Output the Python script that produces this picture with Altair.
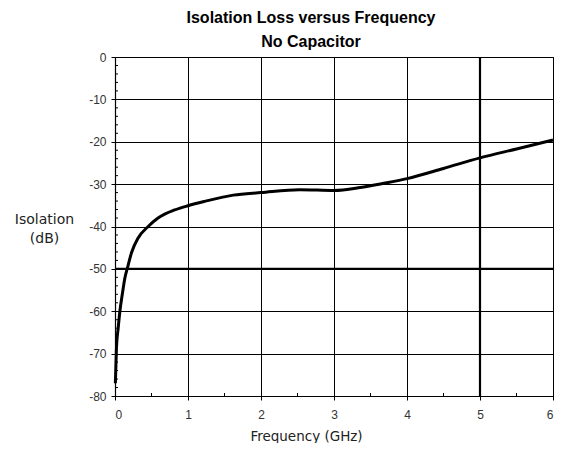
import altair as alt
import pandas as pd

# Curve values
freq_ghz = [0.005, 0.02, 0.044, 0.067, 0.1, 0.136, 0.167, 0.226, 0.317, 0.454, 0.59,
            0.818, 1.0, 1.22, 1.62, 2.0, 2.53, 3.0, 3.36, 3.68, 4.0, 4.5, 5.0, 5.5, 6.0]
isolation_db = [-77, -68.6, -63.9, -60, -56, -52.1, -50, -46.2, -42.7, -40, -38,
                -36.1, -35.1, -34.1, -32.6, -32.0, -31.3, -31.5, -30.8, -29.8, -28.7,
                -26.3, -23.8, -21.7, -19.6]

x_ticks = [0, 1, 2, 3, 4, 5, 6]
y_ticks = [0, -10, -20, -30, -40, -50, -60, -70, -80]
x_minor = [0.5, 1.5, 2.5, 3.5, 4.5, 5.5]
y_minor = [-2, -4, -6, -8, -12, -14, -16, -18, -22, -24, -26, -28, -32, -34, -36, -38,
           -42, -44, -46, -48, -52, -54, -56, -58, -62, -64, -66, -68, -72, -74, -76, -78]
bold_y = [-50]
bold_x = [5]

df = pd.DataFrame({"f": freq_ghz, "iso": isolation_db})

W, H = 438, 339
xscale = alt.Scale(domain=[0, 6], nice=False, zero=False)
yscale = alt.Scale(domain=[-80, 0], nice=False, zero=False)

font = "Liberation Sans"
tfont = "DejaVu Sans"

base = alt.Chart(df).mark_line(
    color="black", strokeWidth=3, interpolate="monotone"
).encode(
    x=alt.X("f:Q", scale=xscale, axis=alt.Axis(
        values=x_ticks, title="Frequency (GHz)", grid=True, tickSize=4,
        labelPadding=9, labelExpr="datum.value + ''",
        titleX=191, titleAlign="center", titleY=44, titleBaseline="alphabetic",
        titleFontSize=13.5, titleFontWeight="normal", labelFontSize=12)),
    y=alt.Y("iso:Q", scale=yscale, axis=alt.Axis(
        values=y_ticks, title=["Isolation", "(dB)"], grid=True, tickSize=4,
        labelPadding=5, labelExpr="datum.value + ''",
        titleAngle=0, titleX=-71, titleY=166,
        titleAlign="center", titleBaseline="alphabetic", titleLineHeight=19,
        titleFontSize=14, titleFontWeight="normal", labelFontSize=12)),
)

ref_h = alt.Chart(pd.DataFrame({"y": bold_y})).mark_rule(
    color="black", strokeWidth=2.2
).encode(y=alt.Y("y:Q", scale=yscale), x=alt.value(0), x2=alt.value(W))

ref_v = alt.Chart(pd.DataFrame({"x": bold_x})).mark_rule(
    color="black", strokeWidth=2.2
).encode(x=alt.X("x:Q", scale=xscale), y=alt.value(0), y2=alt.value(H))

minor_y = alt.Chart(pd.DataFrame({"y": y_minor})).mark_rule(
    color="black", strokeWidth=1
).encode(y=alt.Y("y:Q", scale=yscale), x=alt.value(0), x2=alt.value(3))

minor_x = alt.Chart(pd.DataFrame({"x": x_minor})).mark_rule(
    color="black", strokeWidth=1
).encode(x=alt.X("x:Q", scale=xscale), y=alt.value(H), y2=alt.value(H - 3))

chart = alt.layer(ref_h, ref_v, minor_y, minor_x, base).properties(
    width=W, height=H,
    autosize="none",
    padding={"left": 107, "top": 49, "right": 2, "bottom": 47},
    title=alt.TitleParams(
        ["Isolation Loss versus Frequency", "No Capacitor"],
        anchor="middle", frame="group", fontSize=16, fontWeight="bold",
        font=font, color="black", lineHeight=24, offset=1, dx=-23),
).configure_view(
    stroke="black", strokeWidth=1
).configure_axis(
    gridColor="black", gridOpacity=1, gridWidth=1,
    domainColor="black", domainWidth=1.2, tickColor="black", tickWidth=1,
    labelFont=font, titleFont=tfont, labelColor="#333333", titleColor="#222222",
)

chart.save("out.html", embed_options={"renderer": "svg", "actions": False})
